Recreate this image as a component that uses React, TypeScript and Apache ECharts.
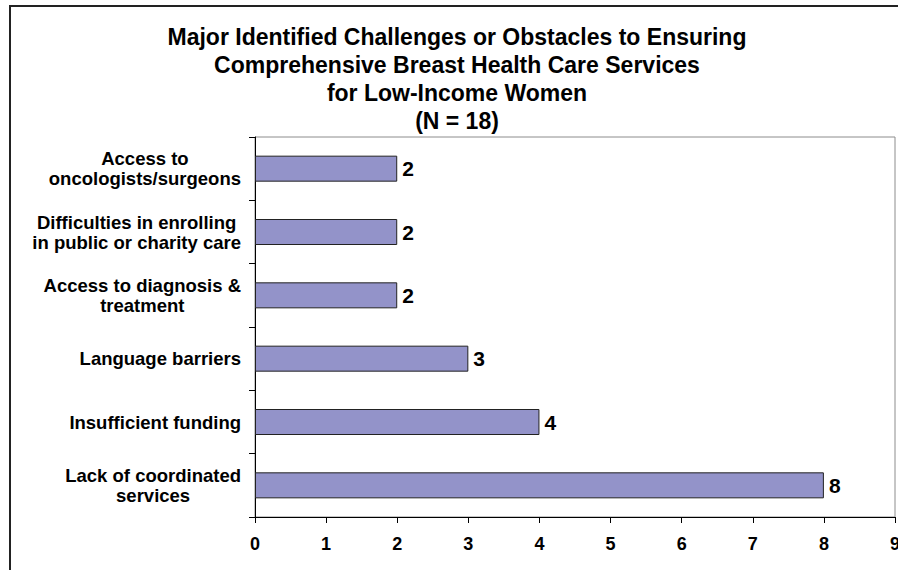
import React, { useEffect, useRef } from "react";
import * as echarts from "echarts";

const categories: string[] = [
  "Access to\noncologists/surgeons",
  "Difficulties in enrolling\nin public or charity care",
  "Access to diagnosis &\ntreatment",
  "Language barriers",
  "Insufficient funding",
  "Lack of coordinated\nservices",
];
const values: number[] = [2, 2, 2, 3, 4, 8];
const titleLines: string[] = [
  "Major Identified Challenges or Obstacles to Ensuring",
  "Comprehensive Breast Health Care Services",
  "for Low-Income Women",
  "(N = 18)",
];

const FONT = 'Arial, "Liberation Sans", Helvetica, sans-serif';

export default function App() {
  const ref = useRef<HTMLDivElement>(null);
  useEffect(() => {
    if (!ref.current) return;
    const chart = echarts.init(ref.current, undefined, { renderer: "svg" });
    chart.setOption({
      animation: false,
      backgroundColor: "#ffffff",
      title: {
        text: titleLines.join("\n"),
        left: 452,
        top: 18,
        textAlign: "center",
        textStyle: {
          fontFamily: FONT,
          fontWeight: "bold",
          fontSize: 23,
          lineHeight: 28,
          color: "#000",
        },
      },
      graphic: [
        {
          type: "rect",
          shape: { x: 10, y: 6, width: 1000, height: 1000 },
          style: { fill: "none", stroke: "#222", lineWidth: 2 },
          silent: true,
        },
      ],
      grid: {
        left: 255,
        top: 137,
        right: 3,
        bottom: 53,
        outerBoundsMode: "none",
        containLabel: false,
        show: true,
        borderColor: "#8c8c8c",
        borderWidth: 1,
        backgroundColor: "transparent",
      },
      xAxis: {
        type: "value",
        min: 0,
        max: 9,
        interval: 1,
        splitLine: { show: false },
        axisLine: { show: true, lineStyle: { color: "#000", width: 1 } },
        axisTick: { show: true, length: 6, lineStyle: { color: "#000" } },
        axisLabel: {
          margin: 18,
          fontFamily: FONT,
          fontWeight: "bold",
          fontSize: 18,
          color: "#000",
          showMaxLabel: true,
        },
      },
      yAxis: {
        type: "category",
        data: categories,
        inverse: true,
        axisLine: { show: true, lineStyle: { color: "#000", width: 1 } },
        axisTick: { show: true, length: 6, lineStyle: { color: "#000" } },
        splitLine: { show: false },
        axisLabel: {
          margin: 14,
          align: "right",
          color: "#000",
          formatter: (v: string) =>
            v
              .split("\n")
              .map((l) => `{c|${l}}`)
              .join("\n"),
          rich: {
            c: {
              align: "center",
              fontFamily: FONT,
              fontWeight: "bold",
              fontSize: 18.5,
              lineHeight: 20,
              color: "#000",
            },
          },
        },
      },
      series: [
        {
          type: "bar",
          data: values,
          barWidth: 26,
          itemStyle: {
            color: "#9393c9",
            borderColor: "#222",
            borderWidth: 1,
          },
          label: {
            show: true,
            position: "right",
            distance: 5,
            fontFamily: FONT,
            fontWeight: "bold",
            fontSize: 21,
            color: "#000",
          },
        },
      ],
    });
    return () => chart.dispose();
  }, []);
  return (
    <div
      ref={ref}
      style={{ position: "absolute", left: 0, top: 0, width: 898, height: 570 }}
    />
  );
}
